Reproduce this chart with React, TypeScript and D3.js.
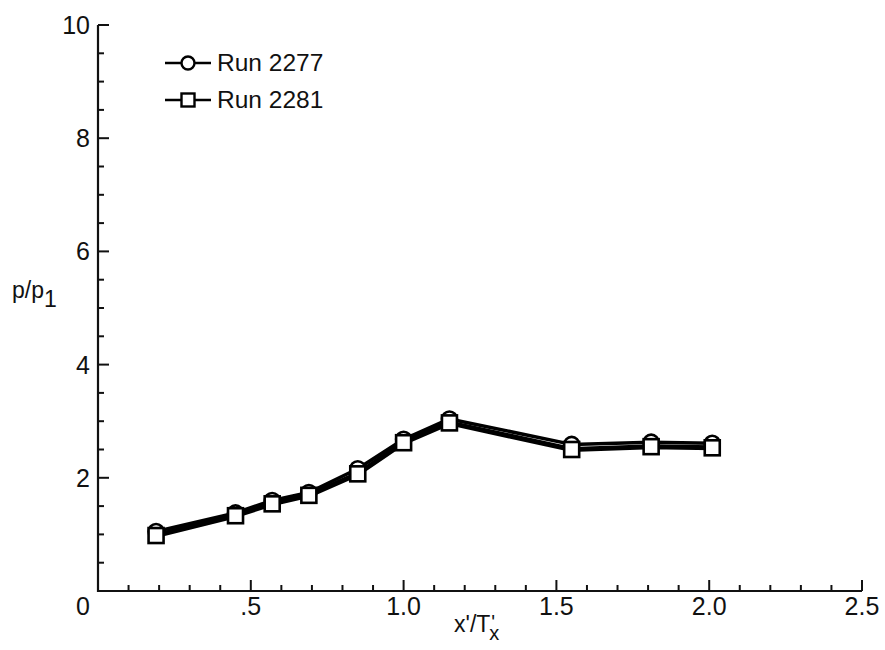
import React from "react";
import * as d3 from "d3";

const xValues = [0.19, 0.45, 0.57, 0.69, 0.85, 1.0, 1.15, 1.55, 1.81, 2.01];
const run2277 = [1.05, 1.38, 1.6, 1.74, 2.16, 2.68, 3.04, 2.59, 2.63, 2.61];
const run2281 = [0.98, 1.33, 1.54, 1.69, 2.07, 2.62, 2.97, 2.5, 2.55, 2.53];
const xTickLabels = [".5", "1.0", "1.5", "2.0", "2.5"];
const xTickValues = [0.5, 1.0, 1.5, 2.0, 2.5];
const yTickValues = [2, 4, 6, 8, 10];
const seriesNames = ["Run 2277", "Run 2281"];

const W = 885;
const H = 650;
const FONT = "'Liberation Sans', Arial, Helvetica, sans-serif";

export default function App() {
  const x = d3.scaleLinear().domain([0, 2.5]).range([98, 862]);
  const y = d3.scaleLinear().domain([0, 10]).range([591, 25]);

  const line = d3
    .line<[number, number]>()
    .x((d) => x(d[0]))
    .y((d) => y(d[1]));

  const d2277 = xValues.map((v, i) => [v, run2277[i]] as [number, number]);
  const d2281 = xValues.map((v, i) => [v, run2281[i]] as [number, number]);

  const xMinor = d3
    .range(1, 25)
    .map((i) => i / 10)
    .filter((v) => Math.abs(v * 2 - Math.round(v * 2)) > 1e-6);
  const yMinor = d3
    .range(1, 20)
    .map((i) => i / 2)
    .filter((v) => v % 2 !== 0);

  const axisColor = "#111";

  return (
    <svg
      width={W}
      height={H}
      style={{ position: "absolute", left: 0, top: 0, background: "#fff" }}
      fontFamily={FONT}
    >
      <rect x={0} y={0} width={W} height={H} fill="#fff" />
      {/* axes */}
      <path
        d={`M${x(0)},${y(10)} L${x(0)},${y(0)} L${x(2.5)},${y(0)}`}
        fill="none"
        stroke={axisColor}
        strokeWidth={2.2}
      />
      {xTickValues.map((v) => (
        <line key={"xt" + v} x1={x(v)} x2={x(v)} y1={y(0)} y2={y(0) - 11} stroke={axisColor} strokeWidth={2} />
      ))}
      {xMinor.map((v) => (
        <line key={"xm" + v} x1={x(v)} x2={x(v)} y1={y(0)} y2={y(0) - 6} stroke={axisColor} strokeWidth={2} />
      ))}
      {yTickValues.map((v) => (
        <line key={"yt" + v} x1={x(0)} x2={x(0) + 11} y1={y(v)} y2={y(v)} stroke={axisColor} strokeWidth={2} />
      ))}
      {yMinor.map((v) => (
        <line key={"ym" + v} x1={x(0)} x2={x(0) + 6} y1={y(v)} y2={y(v)} stroke={axisColor} strokeWidth={2} />
      ))}
      {/* tick labels */}
      {xTickValues.map((v, i) => (
        <text key={"xl" + v} x={x(v)} y={615} fontSize={25} textAnchor="middle" fill="#111">
          {xTickLabels[i]}
        </text>
      ))}
      <text x={x(0) - 8} y={615} fontSize={25} textAnchor="end" fill="#111">
        0
      </text>
      {yTickValues.map((v) => (
        <text key={"yl" + v} x={x(0) - 8} y={y(v)} dy="0.36em" fontSize={25} textAnchor="end" fill="#111">
          {v}
        </text>
      ))}
      {/* axis titles */}
      <text x={12} y={298} fontSize={23} fill="#111">
        p/p
        <tspan fontSize={23} dy={9}>1</tspan>
      </text>
      <text x={454} y={632} fontSize={23} fill="#111">
        x'/T
        <tspan fontSize={20} dx={1} dy={-3}>'</tspan>
        <tspan fontSize={20} dx={-6} dy={11}>x</tspan>
      </text>
      {/* series lines */}
      <path d={line(d2277) || ""} fill="none" stroke="#000" strokeWidth={3.5} strokeLinejoin="round" />
      <path d={line(d2281) || ""} fill="none" stroke="#000" strokeWidth={5} strokeLinejoin="round" />
      {/* markers */}
      {d2277.map((d, i) => (
        <circle key={"c" + i} cx={x(d[0])} cy={y(d[1])} r={7.5} fill="#fff" stroke="#000" strokeWidth={2.6} />
      ))}
      {d2281.map((d, i) => (
        <rect
          key={"s" + i}
          x={x(d[0]) - 7.5}
          y={y(d[1]) - 7.5}
          width={15}
          height={15}
          fill="#fff"
          stroke="#000"
          strokeWidth={2.6}
        />
      ))}
      {/* legend */}
      <g>
        <line x1={165} x2={211} y1={63} y2={63} stroke="#000" strokeWidth={2.5} />
        <circle cx={188} cy={63} r={6.5} fill="#fff" stroke="#000" strokeWidth={2.4} />
        <text x={217} y={71} fontSize={24.5} fill="#111">
          {seriesNames[0]}
        </text>
        <line x1={165} x2={211} y1={100} y2={100} stroke="#000" strokeWidth={2.5} />
        <rect x={181.5} y={93.5} width={13} height={13} fill="#fff" stroke="#000" strokeWidth={2.4} />
        <text x={217} y={108} fontSize={24.5} fill="#111">
          {seriesNames[1]}
        </text>
      </g>
    </svg>
  );
}
